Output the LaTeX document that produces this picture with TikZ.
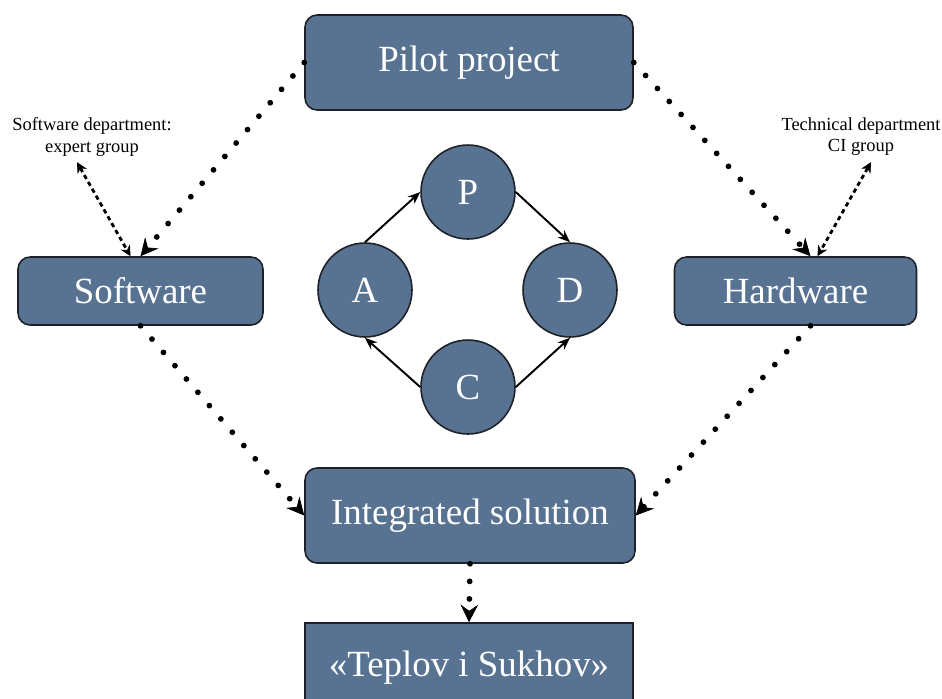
\documentclass[tikz,border=0pt]{standalone}
\usepackage{fontspec}
\setmainfont{Liberation Serif}
\usetikzlibrary{arrows.meta}
\definecolor{boxfill}{RGB}{88,114,145}
\definecolor{boxline}{RGB}{30,34,40}

\begin{document}
\begin{tikzpicture}[x=0.02cm, y=-0.02cm,
    block/.style={draw=boxline, fill=boxfill, line width=0.9pt, rounded corners=0.24cm, text=white, inner sep=0pt, font=\fontsize{21}{25}\selectfont},
    phase/.style={circle, draw=boxline, fill=boxfill, line width=0.9pt, minimum size=1.88cm, inner sep=0pt, text=white, font=\fontsize{21}{25}\selectfont},
    cycle/.style={-{Stealth[length=7pt,width=5.5pt]}, line width=1.1pt},
    flow/.style={line width=3.3pt, line cap=round, dash pattern=on 0pt off 10pt, -{Stealth[length=10pt,width=10pt,inset=3.5pt,line width=0.4pt]}},
    link/.style={line width=1.6pt, dash pattern=on 2.5pt off 2pt, {Stealth[length=6pt,width=6pt,line width=0.4pt]}-{Stealth[length=6pt,width=6pt,line width=0.4pt]}},
    note/.style={align=center, font=\fontsize{10.5}{12}\selectfont}]
  \useasboundingbox (0,0) rectangle (942,698);
  \clip (0,0) rectangle (942,698);

  % boxes
  \node[block, minimum width=6.56cm, minimum height=1.9cm] (pilot) at (469,62.5) {Pilot project};
  \node[block, minimum width=4.9cm, minimum height=1.36cm] (soft) at (140.5,291) {Software};
  \node[block, minimum width=4.84cm, minimum height=1.36cm] (hard) at (795.5,291) {Hardware};
  \node[block, minimum width=6.6cm, minimum height=1.9cm] (integ) at (470,515.5) {Integrated solution};
  \node[block, sharp corners, minimum width=6.56cm, minimum height=1.8cm] (teplov) at (469,668) {«Teplov i Sukhov»};

  % PDCA cycle
  \node[phase] (P) at (468,192) {P};
  \node[phase] (A) at (365,290) {A};
  \node[phase] (D) at (570,290) {D};
  \node[phase] (C) at (468,387) {C};
  \draw[cycle] (A.north) -- (P.west);
  \draw[cycle] (P.east) -- (D.north);
  \draw[cycle] (C.west) -- (A.south);
  \draw[cycle] (C.east) -- (D.south);

  % groups
  \node[note] (softlbl) at (92,137) {Software department:\\expert group};
  \node[note] (hardlbl) at (861,137) {Technical department\\CI group};
  \draw[link] ([xshift=-0.3cm]softlbl.south) -- ([xshift=-0.2cm]soft.north);
  \draw[link] ([xshift=0.2cm]hardlbl.south) -- ([xshift=0.44cm]hard.north);

  % flow
  \draw[flow] (pilot.west) -- (soft.north);
  \draw[flow] (pilot.east) -- ([xshift=0.3cm]hard.north);
  \draw[flow] (soft.south) -- (integ.west);
  \draw[flow] ([xshift=0.3cm]hard.south) -- (integ.east);
  \draw[flow] (integ.south) -- (teplov.north);
\end{tikzpicture}
\end{document}
